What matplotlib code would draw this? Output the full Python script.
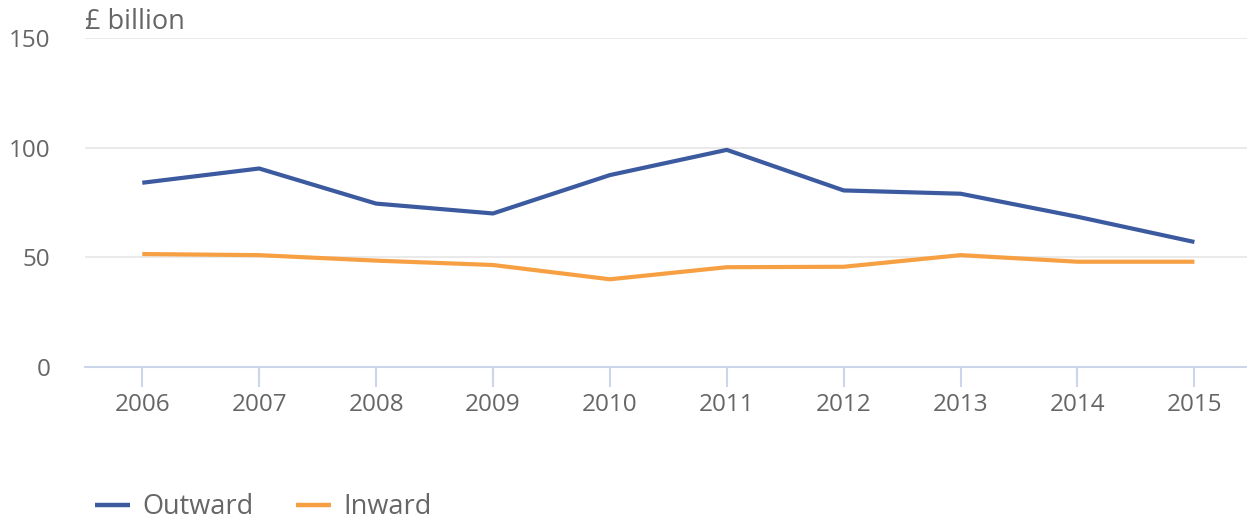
import matplotlib.pyplot as plt

years = ["2006", "2007", "2008", "2009", "2010", "2011", "2012", "2013", "2014", "2015"]
outward = [84, 90.5, 74.5, 70, 87.5, 99, 80.5, 79, 68.5, 57]
inward = [51.5, 51, 48.5, 46.5, 40, 45.5, 45.7, 51, 48, 48]

plt.rcParams['font.family'] = ['Open Sans', 'DejaVu Sans']
grey = "#666666"

fig = plt.figure(figsize=(12.47, 5.22), dpi=100)
ax = fig.add_axes([85 / 1247, 1 - 367 / 522, 1 - 85 / 1247, (367 - 38) / 522])

x = list(range(len(years)))
ax.plot(x, outward, color="#3C5A9F", lw=3.0, solid_capstyle="butt", label="Outward", zorder=3)
ax.plot(x, inward, color="#F7A043", lw=3.0, solid_capstyle="butt", label="Inward", zorder=3)

ax.set_ylim(0, 150)
ax.set_yticks([0, 50, 100, 150])
ax.set_xlim(-0.49, 9.45)
ax.set_xticks(x)
ax.set_xticklabels(years)

ax.grid(axis="y", color="#e6e6e6", lw=1.2)
ax.set_axisbelow(True)
for s in ["top", "right", "left"]:
    ax.spines[s].set_visible(False)
ax.spines["bottom"].set_color("#ccd6eb")
ax.spines["bottom"].set_linewidth(1.5)
ax.tick_params(axis="x", colors="#ccd6eb", length=14.5, width=1.5, labelsize=17.5,
               labelcolor=grey, pad=4.5)
ax.tick_params(axis="y", length=0, labelsize=17.5, labelcolor=grey, pad=25)

fig.text(85 / 1247, 1 - 22 / 522, "£ billion", fontsize=19.5, color=grey, va="center", ha="left")

leg = fig.legend(loc="center left", bbox_to_anchor=(95 / 1247, 1 - 507 / 522), ncol=2,
                 frameon=False, fontsize=19.5, handlelength=1.3, handletextpad=0.45,
                 columnspacing=1.55, borderaxespad=0, borderpad=0)
for t in leg.get_texts():
    t.set_color(grey)
for h in leg.legend_handles:
    h.set_linewidth(3.2)

fig.savefig("out.png", dpi=100)
